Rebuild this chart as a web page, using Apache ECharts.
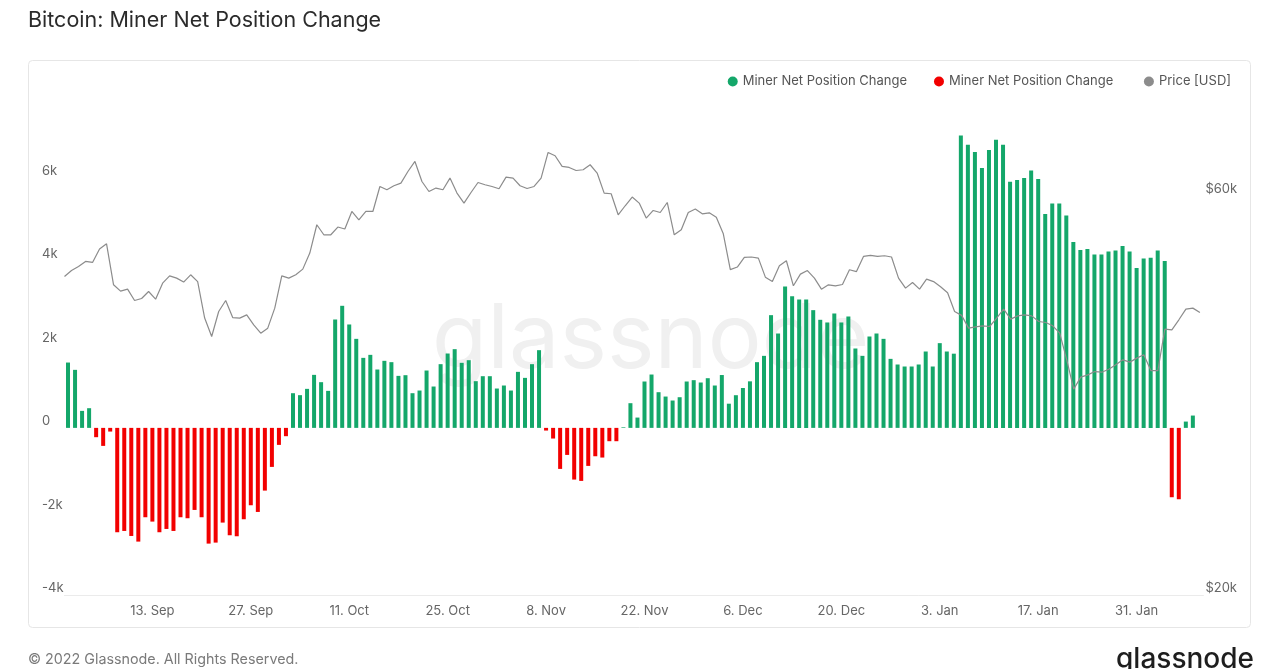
<!DOCTYPE html>
<html>
<head>
<meta charset="utf-8">
<script src="https://cdn.jsdelivr.net/npm/echarts@6/dist/echarts.min.js"></script>
<style>
html,body{margin:0;padding:0;background:#fff;}
#chart{width:1280px;height:669px;}
</style>
</head>
<body>
<div id="chart"></div>
<script>
// ---- data ----
// Daily miner net position change (BTC), 1 Sep 2021 .. 8 Feb 2022
const netChange = [
 1564,1389,407,471,-223,-431,-88,-2498,-2467,-2587,
 -2722,-2139,-2243,-2498,-2419,-2467,-2139,-2163,-1964,-2139,
 -2770,-2746,-2267,-2570,-2594,-2187,-1852,-2012,-1501,-934,
 -407,-199,830,783,934,1269,1094,886,2594,2922,
 2475,2131,1676,1748,1397,1605,1573,1245,1261,830,
 894,1373,990,1525,1780,1884,1557,1620,1118,1237,
 1237,942,1014,894,1341,1197,1525,1860,-64,-255,
 -982,-647,-1237,-1269,-910,-679,-710,-319,-319,15,
 591,247,1110,1277,854,750,655,734,1110,1142,
 1086,1189,1014,1265,579,782,954,1114,1573,1724,
 2698,2259,3385,3153,3073,3073,2818,2587,2523,2738,
 2523,2666,1900,1724,2187,2259,2131,1652,1517,1469,
 1469,1517,1828,1469,2028,1828,1776,7001,6778,6602,
 6219,6650,6897,6778,5891,5931,5979,6163,5955,5117,
 5373,5373,5085,4447,4255,4279,4151,4151,4223,4247,
 4351,4223,3824,4055,4071,4247,3992,-1660,-1708,151,
 295
];
// Daily price (USD), 31 Aug 2021 .. 8 Feb 2022
const priceUsd = [
 48040,48840,49390,50080,49940,51810,52570,46960,46150,46400,
 44970,45220,46100,45140,47170,48130,47830,47310,48270,47380,
 42850,40730,43630,44970,42910,42850,43230,42060,41110,41680,
 44040,48130,47830,48270,49030,51250,55400,53890,53890,55050,
 54750,57460,56160,57460,57460,61550,61000,61670,62130,64140,
 65940,62400,60710,61280,61000,62990,60440,58800,60540,62230,
 61840,61550,61160,63160,62990,61670,61210,61550,62990,67590,
 66980,65040,64860,64320,64450,65340,63870,60440,60330,56940,
 58370,59780,58800,56420,57620,57300,58900,53890,54640,57300,
 57840,57090,57250,56540,54040,48970,49310,50630,50690,50540,
 47960,47380,49480,50170,46830,48360,48840,47830,46400,46960,
 46830,47000,48940,48700,50770,50910,50770,50870,50690,47830,
 46530,47260,46400,47700,47380,46700,45950,43630,43170,41680,
 41830,41950,41870,42850,43920,42730,43110,43230,43110,42450,
 42330,41950,41110,38200,35240,36420,36650,36990,36920,37230,
 37680,38200,37960,38380,38730,37090,37090,41570,41490,42650,
 43920,44040,43510
];
const xTickLabels = ['13. Sep','27. Sep','11. Oct','25. Oct','8. Nov','22. Nov','6. Dec','20. Dec','3. Jan','17. Jan','31. Jan'];
const leftTicks = [-4000,-2000,0,2000,4000,6000];
const rightTicks = [20000,60000];
const seriesNames = ['Miner Net Position Change','Miner Net Position Change ','Price [USD]'];
const colors = {green:'#14a76a', red:'#f20000', price:'#8c8c8c'};

// ---- categories (1 Sep 2021 .. 9 Feb 2022) ----
const MONTHS = ['Jan','Feb','Mar','Apr','May','Jun','Jul','Aug','Sep','Oct','Nov','Dec'];
const categories = [];
for (let i = 0; i < 162; i++) {
  const d = new Date(Date.UTC(2021, 8, 1 + i));
  categories.push(d.getUTCDate() + '. ' + MONTHS[d.getUTCMonth()]);
}

// price axis is logarithmic (base 3, relative to $20k)
const PBASE = 20000;
const toLog = p => Math.log(p / PBASE) / Math.log(3);
const priceData = priceUsd.map((p, i) => [i, toLog(p)]);
const greenData = netChange.map(v => v >= 0 ? v : '-');
const redData = netChange.map(v => v < 0 ? v : '-');

const FONT = 'Inter, "Noto Sans", sans-serif';
const chart = echarts.init(document.getElementById('chart'), null, {renderer: 'canvas'});
chart.setOption({
  backgroundColor: '#fff',
  animation: false,
  textStyle: {fontFamily: FONT},
  graphic: [
    {type: 'rect', z: -10, shape: {x: 28.5, y: 60.5, width: 1222, height: 567, r: 4},
     style: {fill: '#fff', stroke: '#e6e6e6', lineWidth: 1}},
    {type: 'text', z: -5, left: 432, top: 296,
     style: {text: 'glassnode', fill: '#f0f0f0', font: '400 90px ' + FONT}},
    {type: 'text', left: 28, top: 10,
     style: {text: 'Bitcoin: Miner Net Position Change', fill: '#2b2b2b', font: '400 21.5px ' + FONT}},
    {type: 'text', left: 28, top: 653,
     style: {text: '\u00a9 2022 Glassnode. All Rights Reserved.', fill: '#7a7a7a', font: '400 14.3px ' + FONT}},
    {type: 'text', left: 1116, top: 646,
     style: {text: 'glassnode', fill: '#1e1e1e', font: '500 28px ' + FONT}}
  ],
  legend: {
    right: 44, top: 70,
    icon: 'circle', itemWidth: 10, itemHeight: 10, itemGap: 27,
    textStyle: {color: '#555', fontSize: 13, fontFamily: FONT},
    data: seriesNames
  },
  grid: {left: 64.5, right: 76.6, top: 102, bottom: 74, containLabel: false},
  xAxis: [
    {
      type: 'category', data: categories, boundaryGap: true,
      axisLine: {show: true, onZero: false, lineStyle: {color: '#ebebeb'}},
      axisTick: {show: false},
      splitLine: {show: false},
      axisLabel: {
        color: '#666', fontSize: 13, margin: 10, fontFamily: FONT,
        interval: (idx, val) => xTickLabels.indexOf(val) >= 0
      }
    },
    {
      type: 'value', min: 0, max: 162.5, show: false
    }
  ],
  yAxis: [
    {
      type: 'value', min: -4000, max: 7800, interval: 2000,
      axisLine: {show: false}, axisTick: {show: false}, splitLine: {show: false},
      axisLabel: {
        color: '#666', fontSize: 13, align: 'left', margin: 22.5, verticalAlign: 'bottom', fontFamily: FONT,
        formatter: v => leftTicks.indexOf(v) < 0 ? '' : (v === 0 ? '0' : (v / 1000) + 'k')
      }
    },
    {
      type: 'value', position: 'right', min: 0, max: 1.2348, interval: 1,
      axisLine: {show: false}, axisTick: {show: false}, splitLine: {show: false},
      axisLabel: {
        color: '#666', fontSize: 13, margin: 2, verticalAlign: 'bottom', fontFamily: FONT,
        formatter: v => {
          const p = Math.round(PBASE * Math.pow(3, v));
          return rightTicks.indexOf(p) < 0 ? '' : '$' + (p / 1000) + 'k';
        }
      }
    }
  ],
  series: [
    {name: seriesNames[0], type: 'bar', data: greenData, barWidth: 4, barGap: '-100%',
     itemStyle: {color: colors.green}, xAxisIndex: 0, yAxisIndex: 0},
    {name: seriesNames[1], type: 'bar', data: redData, barWidth: 4, barGap: '-100%',
     itemStyle: {color: colors.red}, xAxisIndex: 0, yAxisIndex: 0},
    {name: seriesNames[2], type: 'line', data: priceData, showSymbol: false, symbol: 'none',
     xAxisIndex: 1, yAxisIndex: 1, z: 5,
     lineStyle: {color: colors.price, width: 1.2}, itemStyle: {color: colors.price}}
  ]
});
</script>
</body>
</html>
